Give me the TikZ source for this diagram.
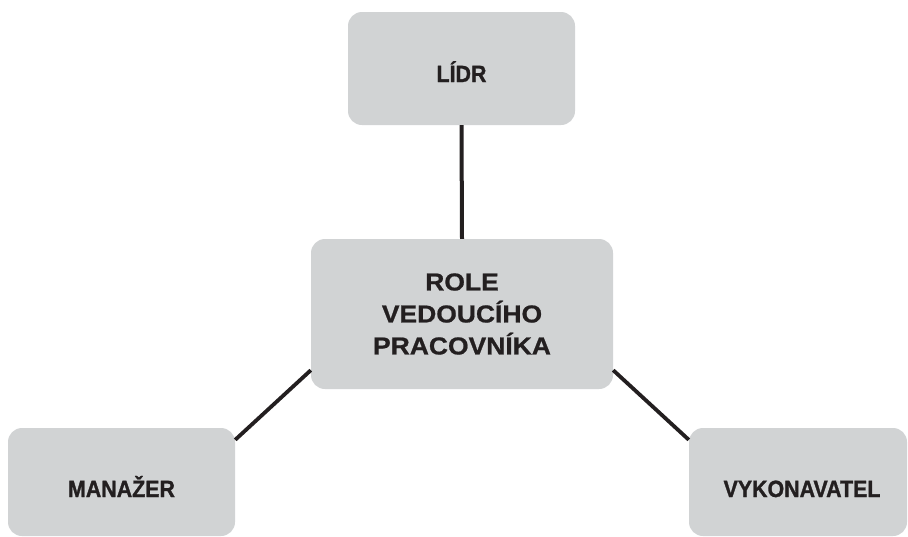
\documentclass[tikz,border=0pt]{standalone}
\usepackage{fontspec}
\setmainfont{Liberation Sans}
\newfontfamily\condfont[FakeStretch=0.91,FakeBold=1.2]{Liberation Sans}
\newfontfamily\widefont[FakeStretch=1.08,FakeBold=0.8]{Liberation Sans}
\definecolor{boxgray}{HTML}{D1D3D4}
\definecolor{ink}{HTML}{231F20}
\begin{document}
\begin{tikzpicture}[x=1pt,y=1pt,
  rolebox/.style={fill=boxgray, draw=none, rounded corners=14pt, inner sep=0pt,
    text=ink, font=\condfont\bfseries\fontsize{23.5}{28}\selectfont},
  mainbox/.style={rolebox, align=center, font=\widefont\bfseries\fontsize{24.5}{32}\selectfont},
  link/.style={draw=ink, line width=4pt}]
\useasboundingbox (0,0) rectangle (908,-536);
\node[rolebox, minimum width=227pt, minimum height=113pt, text height=27pt, text depth=0pt] (lidr) at (461.5,-68.5) {LÍDR};
\node[mainbox, minimum width=302pt, minimum height=150pt] (role) at (462,-314) {ROLE\\VEDOUCÍHO\\PRACOVNÍKA};
\node[rolebox, minimum width=227pt, minimum height=108pt, text height=30pt, text depth=0pt] (man) at (121.5,-482) {MANAŽER};
\node[rolebox, minimum width=218pt, minimum height=108pt, text height=30pt, text depth=0pt] (vyk) at (798,-482) {\hspace*{8pt}VYKONAVATEL};
\draw[link] (lidr.south) -- (role.north);
\draw[link, line width=3.8pt] ([yshift=-12pt]man.north east) -- ([yshift=19pt]role.south west);
\draw[link, line width=3.8pt] ([yshift=19pt]role.south east) -- ([yshift=-12pt]vyk.north west);
\end{tikzpicture}
\end{document}
